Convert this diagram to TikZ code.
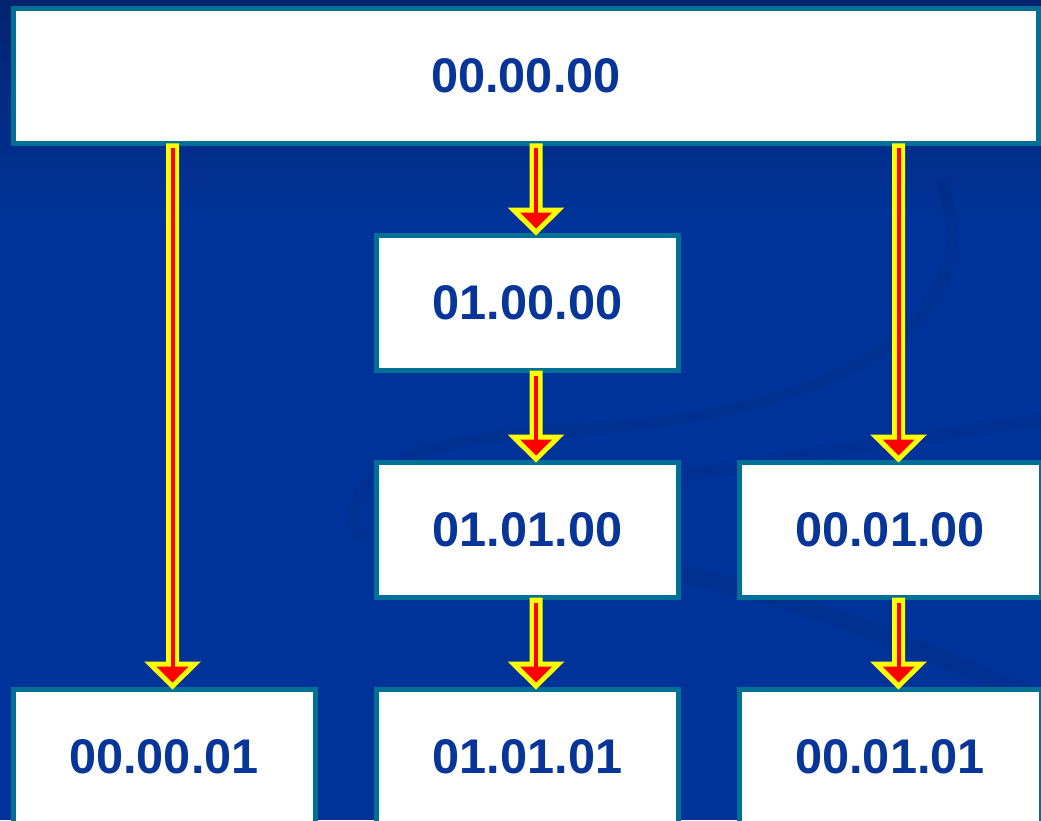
\documentclass[tikz,border=0pt]{standalone}
\usepackage{fontspec}
\setmainfont{Liberation Sans}
\usetikzlibrary{calc}
\definecolor{bgblue}{RGB}{0,51,153}
\definecolor{bgdark}{RGB}{4,36,112}
\definecolor{swoosh}{RGB}{0,40,125}
\definecolor{teal}{RGB}{0,112,150}
\definecolor{txtblue}{RGB}{8,54,152}
\definecolor{ayellow}{RGB}{255,255,0}
\definecolor{ared}{RGB}{255,0,0}
\tikzset{
  box/.style={draw=teal, fill=white, line width=3.75pt, inner sep=0pt, outer sep=0pt,
    minimum width=226.5pt, minimum height=101.25pt,
    font=\fontsize{36.5}{40}\selectfont\bfseries, text=txtblue},
  widebox/.style={box, minimum width=768.75pt},
}
\newcommand\flowarrow[2]{%
  \path (#2.north) ++(8.5,0) coordinate (tip);
  \path (#1.south -| tip) coordinate (tail);
  \fill[ayellow] ($(tail)+(-6.5,0)$) -- ($(tip)+(-6.5,-28)$) -- ($(tip)+(-28.5,-28)$)
     -- (tip) -- ($(tip)+(28.5,-28)$) -- ($(tip)+(6.5,-28)$) -- ($(tail)+(6.5,0)$) -- cycle;
  \draw[ared, line width=3pt] ($(tail)+(0,5)$) -- ($(tip)+(0,-22)$);
  \fill[ared] ($(tip)+(-16,-23)$) -- ($(tip)+(16,-23)$) -- ($(tip)+(0,-7)$) -- cycle;
}
\begin{document}
\begin{tikzpicture}[x=0.75pt, y=-0.75pt]
\useasboundingbox (0,0) rectangle (1041,820);
\begin{scope}
\clip (0,0) rectangle (1041,820);
\fill[bgblue] (0,0) rectangle (1041,820);
\shade[top color=bgdark, bottom color=bgblue] (0,0) rectangle (1041,220);
% faint background swooshes
\draw[swoosh, line width=9pt, opacity=0.25] (940,180) .. controls (1000,330) and (820,420) .. (560,430)
   .. controls (420,440) and (330,470) .. (360,540);
\draw[swoosh, line width=14pt, opacity=0.25] (600,560) .. controls (760,580) and (900,640) .. (1041,700);
\draw[swoosh, line width=10pt, opacity=0.2] (1041,420) .. controls (900,440) and (700,470) .. (560,500);

\node[widebox] (n0) at (526,76) {\raisebox{-3pt}{00.00.00}};
\node[box] (n1) at (527.5,303) {01.00.00};
\node[box] (n2) at (527.5,530) {01.01.00};
\node[box] (n3) at (890,530) {00.01.00};
\node[box] (n4) at (164,757) {00.00.01};
\node[box] (n5) at (527.5,757) {01.01.01};
\node[box] (n6) at (890,757) {00.01.01};

\flowarrow{n0}{n1}
\flowarrow{n1}{n2}
\flowarrow{n0}{n3}
\flowarrow{n0}{n4}
\flowarrow{n2}{n5}
\flowarrow{n3}{n6}
\end{scope}
\end{tikzpicture}
\end{document}
